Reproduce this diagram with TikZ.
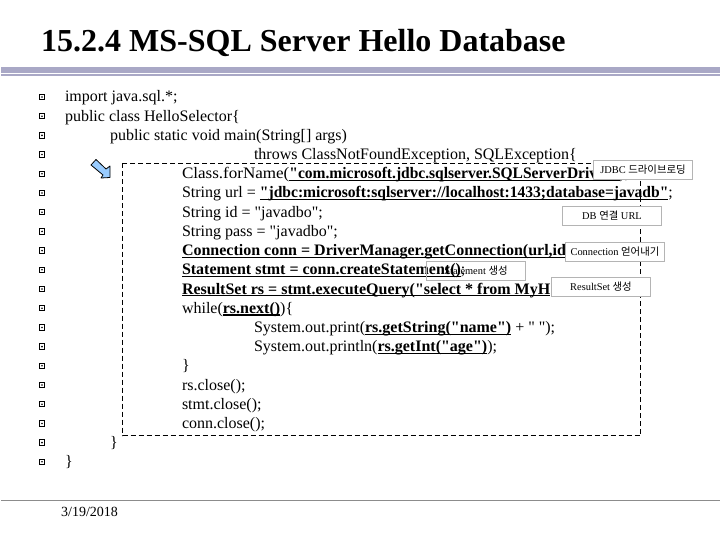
\documentclass[tikz,border=0pt]{standalone}
\usepackage{fontspec}
\usepackage{graphicx}
\setmainfont[Ligatures=TeXOff]{Liberation Serif}
\newfontfamily\krfont{Noto Sans CJK KR}
\definecolor{bandcol}{HTML}{A9A8C6}
\definecolor{boxline}{HTML}{B4B4B4}
\definecolor{arrowfill}{HTML}{99CCFF}
\newcommand\ub[1]{\setbox0\hbox{\bfseries #1}\rlap{\rule[-2.4pt]{\wd0}{1.3pt}}\box0\relax}
\newcommand\ubs[2]{\setbox0\hbox{\scalebox{#1}[1]{\bfseries #2}}\rlap{\rule[-2.4pt]{\wd0}{1.3pt}}\box0\relax}
\tikzset{
  codeline/.style={anchor=base west,inner sep=0pt,outer sep=0pt,font=\fontsize{16}{16}\selectfont},
  bulletbox/.style={draw=black,line width=1pt,minimum size=5.5pt,inner sep=0pt,outer sep=0pt,
    path picture={\fill[black] (path picture bounding box.center) circle (0.9pt);}},
  notebox/.style={draw=boxline,line width=1pt,inner sep=0pt,outer sep=0pt,minimum width=99pt,minimum height=19.5pt,
    font=\fontsize{10.4}{10.4}\selectfont},
}
\begin{document}
\begin{tikzpicture}[x=1pt,y=-1pt]
\useasboundingbox (0,0) rectangle (720,540);
% title and rules
\node[anchor=base west,inner sep=0pt,font=\fontsize{32}{32}\selectfont\bfseries] (title) at (41,52) {15.2.4 MS-SQL Server Hello Database};
\fill[bandcol] (1,67) rectangle (720,72.7);
\fill[bandcol] (1,73.8) rectangle (720,76);
\fill[black!45] (1,499.5) rectangle (720,500.5);
\node[anchor=base west,inner sep=0pt,font=\fontsize{14}{14}\selectfont] (date) at (61,516) {3/19/2018};
% bullets
\foreach \i in {0,...,19} {
  \node[bulletbox] (b\i) at (42,{97+19.2*\i}) {};
}
% dashed frame
\draw[black,line width=1pt,dash pattern=on 5pt off 3pt] (122.7,163.5) rectangle (640.7,435.7);
% block arrow
\draw[fill=arrowfill,line width=0.8pt,line join=round] (91,165) -- (96,159.5) -- (106,169) -- (110,166) -- (110,177.5) -- (101,178) -- (103,175) -- cycle;
% code
\newcommand\cl[3]{\node[codeline] (l#1) at (#2,{102+19.2*#1}) {#3};}
\cl{0}{65}{import java.sql.*;}
\cl{1}{65}{public class HelloSelector\{}
\cl{2}{110}{public static void main(String[] args)}
\cl{3}{254}{throws ClassNotFoundException, SQLException\{}
\cl{4}{182}{\scalebox{1.065}[1]{Class.forName(}\ubs{0.97}{"com.microsoft.jdbc.sqlserver.SQLServerDriver"});}
\cl{5}{182}{String url = \ubs{0.974}{"jdbc:microsoft:sqlserver://localhost:1433;database=javadb"};}
\cl{6}{182}{String id = "javadbo";}
\cl{7}{182}{String pass = "javadbo";}
\cl{8}{182}{\ub{Connection conn = DriverManager.getConnection(url,id}}
\cl{9}{182}{\ub{Statement stmt = conn.createStatement()};}
\cl{10}{182}{\ub{ResultSet rs = stmt.executeQuery("select * from MyH}}
\cl{11}{182}{while(\ub{rs.next()})\{}
\cl{12}{254}{System.out.print(\ub{rs.getString("name")} + " ");}
\cl{13}{254}{System.out.println(\ub{rs.getInt("age")});}
\cl{14}{182}{\}}
\cl{15}{182}{rs.close();}
\cl{16}{182}{stmt.close();}
\cl{17}{182}{conn.close();}
\cl{18}{110}{\}}
\cl{19}{65}{\}}
% notes
\node[notebox,fill=white] (n1) at (643,170) {JDBC {\krfont 드라이브로딩}};
\node[notebox,fill=white] (n2) at (612,216) {DB {\krfont 연결} URL};
\node[notebox,fill=white] (n3) at (615,252) {Connection {\krfont 얻어내기}};
\node[notebox] (n4) at (476,271) {Statement {\krfont 생성}};
\node[notebox,fill=white] (n5) at (601,287) {ResultSet {\krfont 생성}};
\end{tikzpicture}
\end{document}
